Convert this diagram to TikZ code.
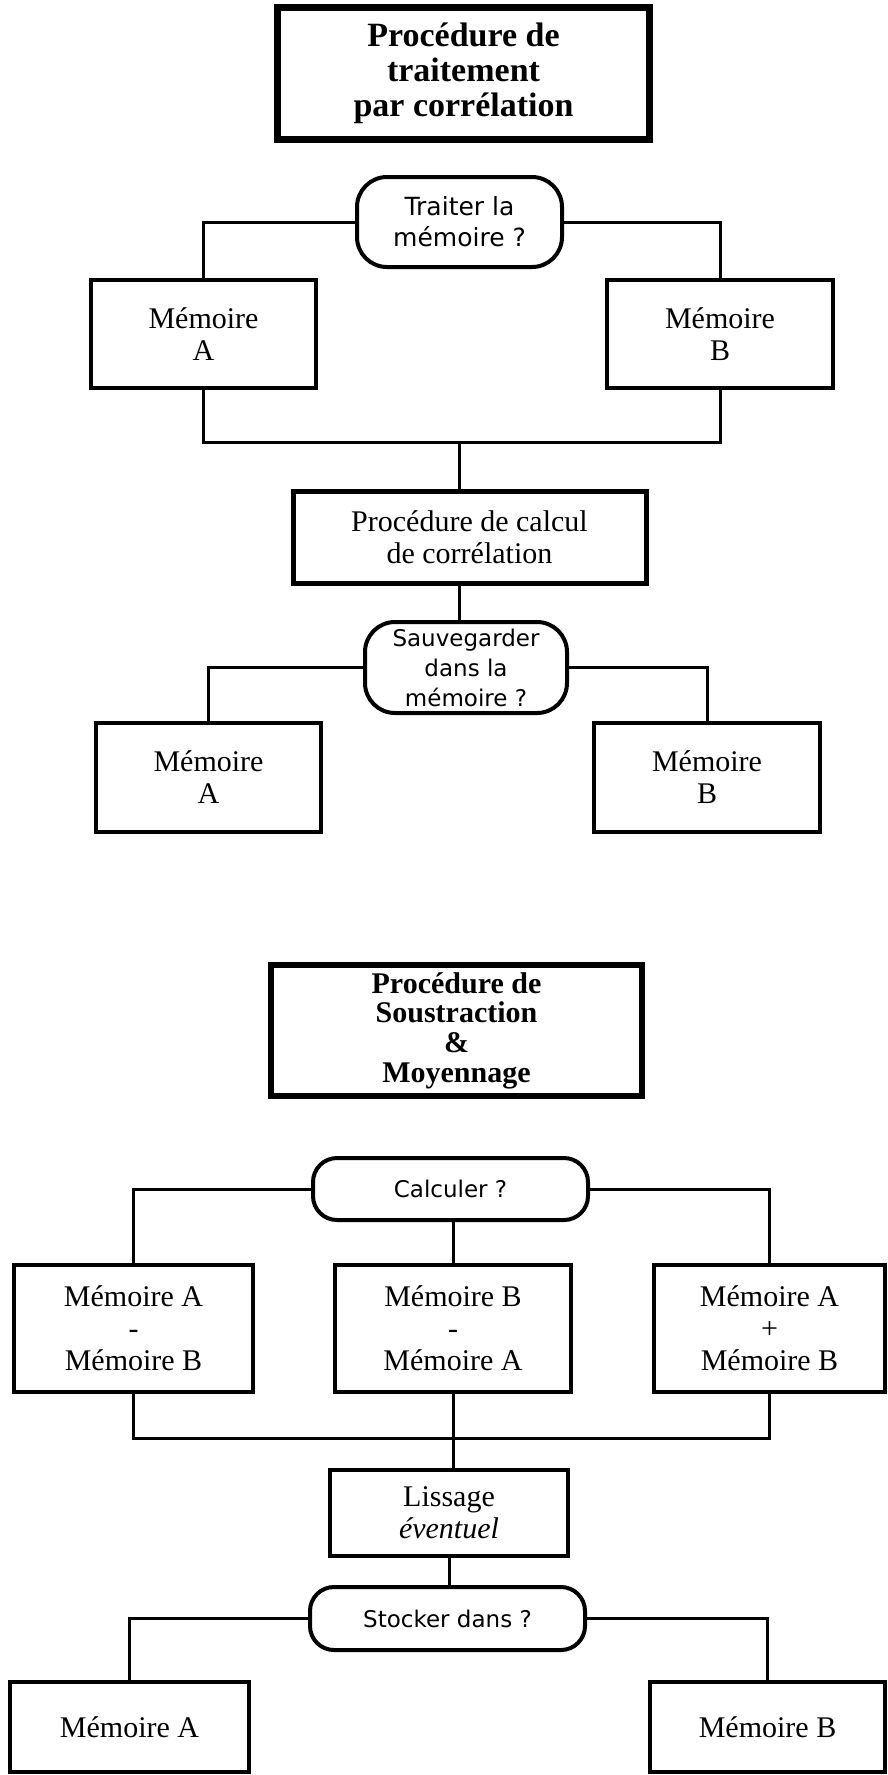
\documentclass[tikz,border=0pt]{standalone}
\usepackage{fontspec}
\setmainfont{Liberation Serif}
\newfontfamily\decfont{DejaVu Sans}
\begin{document}
\begin{tikzpicture}[x=1pt,y=-1pt,
  wire/.style={line width=3pt, line join=miter},
  box/.style={draw, line width=3.3pt, inner sep=0pt, align=center,
    font=\fontsize{30}{32}\selectfont},
  heavy/.style={box, line width=5pt},
  titlebox/.style={box, line width=7pt, font=\fontsize{34}{35}\bfseries\selectfont},
  titlebox2/.style={box, line width=6.5pt, font=\fontsize{30}{29.7}\bfseries\selectfont},
  query/.style={draw, line width=4pt, inner sep=0pt, align=center,
    font=\decfont\fontsize{23}{30}\selectfont}]
\useasboundingbox (0,0) rectangle (887,1775);

% --- correlation procedure ---
\node[titlebox, minimum width=372pt, minimum height=132pt] (t1) at (463.5,73.5)
  {Procédure de\\traitement\\par corrélation};
\node[query, rounded corners=30pt, minimum width=205pt, minimum height=90pt,
  font=\decfont\fontsize{25}{31}\selectfont] (q1) at (459.5,222)
  {Traiter la\\mémoire ?};
\node[box, minimum width=225pt, minimum height=108pt] (a1) at (203.5,334) {Mémoire\\A};
\node[box, minimum width=226pt, minimum height=108pt] (b1) at (720,334) {Mémoire\\B};
\coordinate (j1) at (459.5,442);
\node[heavy, minimum width=353pt, minimum height=92pt] (calc) at (469.5,537)
  {Procédure de calcul\\de corrélation};
\node[query, rounded corners=30pt, minimum width=202pt, minimum height=91pt] (q2) at (466,667.5)
  {Sauvegarder\\dans la\\mémoire ?};
\node[box, minimum width=225pt, minimum height=109pt] (a2) at (208.5,777.5) {Mémoire\\A};
\node[box, minimum width=226pt, minimum height=109pt] (b2) at (707,777.5) {Mémoire\\B};

\draw[wire] (q1.west) -| (a1.north);
\draw[wire] (q1.east) -| (b1.north);
\draw[wire] (a1.south) |- (j1) -| (b1.south);
\draw[wire] (j1) -- (j1 |- calc.north);
\draw[wire] (j1 |- calc.south) -- (j1 |- q2.north);
\draw[wire] (q2.west) -| (a2.north);
\draw[wire] (q2.east) -| (b2.north);

% --- subtraction and averaging procedure ---
\node[titlebox2, minimum width=371pt, minimum height=131pt] (t2) at (456.5,1030.5)
  {Procédure de\\Soustraction\\\&\\Moyennage};
\node[query, rounded corners=24pt, minimum width=275pt, minimum height=62pt] (q3) at (450.5,1189)
  {Calculer ?};
\node[box, minimum width=239pt, minimum height=127pt] (r1) at (133.5,1328.5)
  {Mémoire A\\-\\Mémoire B};
\node[box, minimum width=236pt, minimum height=127pt] (r2) at (453,1328.5)
  {Mémoire B\\-\\Mémoire A};
\node[box, minimum width=231pt, minimum height=127pt] (r3) at (769.5,1328.5)
  {Mémoire A\\+\\Mémoire B};
\coordinate (j2) at (r2.south |- 0,1438);
\node[box, minimum width=238pt, minimum height=86pt] (lis) at (449,1513)
  {Lissage\\\textit{éventuel}};
\node[query, rounded corners=24pt, minimum width=275pt, minimum height=63pt] (q4) at (447.5,1618.5)
  {Stocker dans ?};
\node[box, minimum width=239pt, minimum height=90pt] (a3) at (129.5,1727) {Mémoire A};
\node[box, minimum width=235pt, minimum height=90pt] (b3) at (767.5,1727) {Mémoire B};

\draw[wire] (q3.west) -| (r1.north);
\draw[wire] (q3.east) -| (r3.north);
\draw[wire] (r2.north |- q3.south) -- (r2.north);
\draw[wire] (r1.south) |- (j2) -| (r3.south);
\draw[wire] (r2.south) -- (r2.south |- lis.north);
\draw[wire] (lis.south) -- (lis.south |- q4.north);
\draw[wire] (q4.west) -| (a3.north);
\draw[wire] (q4.east) -| (b3.north);
\end{tikzpicture}
\end{document}
